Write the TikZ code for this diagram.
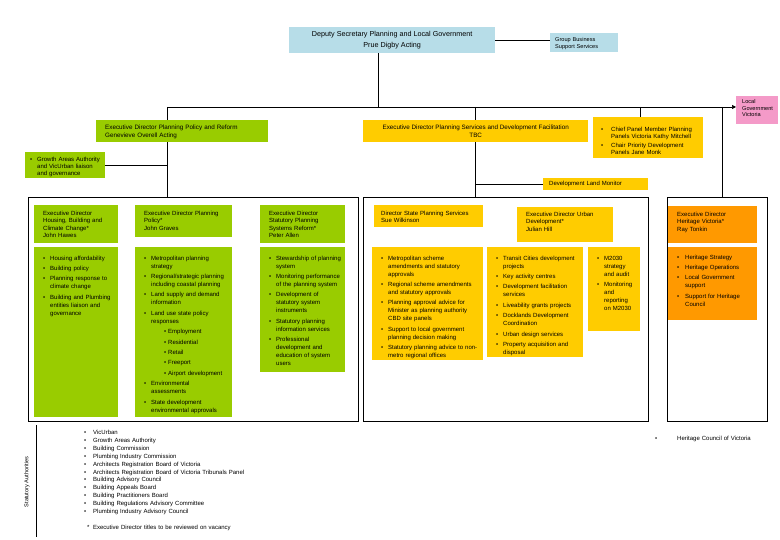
\documentclass[tikz,border=0pt]{standalone}
\usepackage{fontspec}
\setmainfont{Liberation Sans}
\usetikzlibrary{arrows.meta}

\definecolor{paleblue}{RGB}{183,221,232}
\definecolor{leaf}{RGB}{153,204,0}
\definecolor{gold}{RGB}{255,204,0}
\definecolor{amber}{RGB}{255,153,0}
\definecolor{rose}{RGB}{244,154,200}

\newlength{\bw}
\setlength{\bw}{7pt}
\newcommand{\fs}{\fontsize{6}{8}\selectfont}
\newcommand{\fss}{\fontsize{5.6}{6.8}\selectfont}
\newcommand{\fm}{\fontsize{6.3}{7.6}\selectfont}
\newcommand{\itm}[1]{\par\hangindent=\bw\hangafter=1\noindent\makebox[\bw][l]{\textbullet}#1\par\vspace{2.4pt}}
\newcommand{\sitm}[1]{\par\noindent\hspace*{20pt}\makebox[4pt][l]{\textbullet}#1\par\vspace{2.4pt}}

\begin{document}
\begin{tikzpicture}[x=1pt, y=-1pt,
                    panel/.style 2 args={anchor=north west, inner sep=0pt, minimum width=#1, minimum height=#2},
                    txt/.style={anchor=north west, inner sep=0pt, align=left, font=\fs, text width=#1},
                    txt/.default=100pt,
                    hdr/.style={txt=#1, font=\fontsize{6}{7.4}\selectfont},
                    grpframe/.style={draw, line width=0.6pt},
                    link/.style={draw, line width=0.7pt}]
                \useasboundingbox (0,0) rectangle (780,540);
                % deputy secretary and offices beside it
                \node[panel={206}{26}, fill=paleblue] (dep) at (289,27) {};
                \node[font=\fontsize{7.2}{10.5}\selectfont, align=center, inner sep=0pt] (depT) at (dep.center)
                    {Deputy Secretary Planning and Local Government\\Prue Digby Acting};
                \node[panel={68}{19}, fill=paleblue] (grp) at (550,33) {};
                \node[txt=64pt, font=\fss] (grpT) at ([shift={(5,4)}]grp.north west) {Group Business\\Support Services};
                \node[panel={42}{28}, fill=rose] (lgv) at (736,96) {};
                \node[txt=40pt, font=\fss] (lgvT) at ([shift={(6,3)}]lgv.north west) {Local\\Government\\Victoria};

                % executive directors
                \node[panel={172}{22}, fill=leaf] (ppr) at (96,120) {};
                \node[txt=160pt, font=\fm] (pprT) at ([shift={(9,5)}]ppr.north west)
                    {Executive Director Planning Policy and Reform\\Genevieve Overell Acting};
                \node[panel={225}{22}, fill=gold] (psd) at (363,120) {};
                \node[font=\fm, align=center, inner sep=0pt] (psdT) at (psd.center)
                    {Executive Director Planning Services and Development Facilitation\\TBC};
                \node[panel={110}{41}, fill=gold] (cpm) at (593,117) {};
                \node[txt=100pt, font=\fontsize{6}{6.8}\selectfont] (cpmT) at ([shift={(8,8)}]cpm.north west) {\setlength{\bw}{10pt}%
                    \itm{Chief Panel Member Planning\newline Panels Victoria Kathy Mitchell}%
                    \itm{Chair Priority Development\newline Panels Jane Monk}};
                \node[panel={80}{26}, fill=leaf] (gaa) at (25,152) {};
                \node[txt=76pt, font=\fontsize{6}{7.2}\selectfont] (gaaT) at ([shift={(5,2)}]gaa.north west)
                    {\itm{Growth Areas Authority\newline and VicUrban liaison\newline and governance}};
                \node[panel={105}{12}, fill=gold] (dlm) at (543,178) {};
                \node[txt=100pt, anchor=west] (dlmT) at ([xshift=6pt]dlm.west) {Development Land Monitor};

                % group frames
                \node[panel={330}{224}, grpframe] (gfr) at (28,197) {};
                \node[panel={285}{224}, grpframe] (yfr) at (363,197) {};
                \node[panel={100}{224}, grpframe] (hfr) at (667,197) {};

                % reporting lines
                \coordinate (busL) at (167,107);
                \coordinate (tapC) at (640,107);
                \coordinate (tapH) at (722,107);
                \draw[link] ([xshift=-14pt]dep.south) -- ([xshift=-14pt]dep.south |- busL);
                \draw[link, -{Triangle[length=4pt, width=4pt]}] (busL) -- (busL -| lgv.west);
                \draw[link] (busL) -- (busL |- ppr.north);
                \draw[link] (busL |- ppr.south) -- (busL |- gfr.north);
                \draw[link] (psd.north |- busL) -- (psd.north);
                \draw[link] (psd.south) -- (psd.south |- yfr.north);
                \draw[link] (tapC) -- (tapC |- cpm.north);
                \draw[link] (tapH) -- (tapH |- hfr.north);
                \draw[link] (dep.east) -- (dep.east -| grp.west);
                \draw[link] (gaa.east) -- (gaa.east -| busL);
                \draw[link] (dlm.west -| psd.south) -- (dlm.west);

                % planning policy and reform
                \node[panel={84}{38}, fill=leaf] (hbcH) at (34,205) {};
                \node[hdr=76pt] (hbcHT) at ([shift={(9,6)}]hbcH.north west)
                    {Executive Director\\Housing, Building and\\Climate Change*\\John Hawes};
                \node[panel={84}{170}, fill=leaf] (hbcB) at (34,247) {};
                \node[txt=76pt] (hbcBT) at ([shift={(9,5)}]hbcB.north west)
                    {\itm{Housing affordability}\itm{Building policy}%
                     \itm{Planning response to\newline climate change}%
                     \itm{Building and Plumbing\newline entities liaison and\newline governance}};
                \node[panel={97}{32}, fill=leaf] (ppH) at (135,205) {};
                \node[hdr=88pt] (ppHT) at ([shift={(9,6)}]ppH.north west)
                    {Executive Director Planning\\Policy*\\John Graves};
                \node[panel={97}{170}, fill=leaf] (ppB) at (135,247) {};
                \node[txt=88pt] (ppBT) at ([shift={(9,5)}]ppB.north west)
                    {\itm{Metropolitan planning\newline strategy}%
                     \itm{Regional/strategic planning\newline including coastal planning}%
                     \itm{Land supply and demand\newline information}%
                     \itm{Land use state policy\newline responses}%
                     \sitm{Employment}\sitm{Residential}\sitm{Retail}\sitm{Freeport}\sitm{Airport development}%
                     \itm{Environmental\newline assessments}%
                     \itm{State development\newline environmental approvals}};
                \node[panel={85}{38}, fill=leaf] (spsH) at (260,205) {};
                \node[hdr=76pt] (spsHT) at ([shift={(9,6)}]spsH.north west)
                    {Executive Director\\Statutory Planning\\Systems Reform*\\Peter Allen};
                \node[panel={85}{125}, fill=leaf] (spsB) at (260,247) {};
                \node[txt=76pt] (spsBT) at ([shift={(9,5)}]spsB.north west)
                    {\itm{Stewardship of planning\newline system}%
                     \itm{Monitoring performance\newline of the planning system}%
                     \itm{Development of\newline statutory system\newline instruments}%
                     \itm{Statutory planning\newline information services}%
                     \itm{Professional\newline development and\newline education of system\newline users}};

                % planning services and development facilitation
                \node[panel={109}{22}, fill=gold] (spvH) at (374,205) {};
                \node[hdr=100pt] (spvHT) at ([shift={(7,6)}]spvH.north west)
                    {Director State Planning Services\\Sue Wilkinson};
                \node[panel={111}{113}, fill=gold] (spvB) at (372,247) {};
                \node[txt=100pt] (spvBT) at ([shift={(9,5)}]spvB.north west)
                    {\itm{Metropolitan scheme\newline amendments and statutory\newline approvals}%
                     \itm{Regional scheme amendments\newline and statutory approvals}%
                     \itm{Planning approval advice for\newline Minister as planning authority\newline CBD site panels}%
                     \itm{Support to local government\newline planning decision making}%
                     \itm{Statutory planning advice to non-\newline metro regional offices}};
                \node[panel={96}{35}, fill=gold] (udH) at (517,207) {};
                \node[hdr=88pt] (udHT) at ([shift={(9,5)}]udH.north west)
                    {Executive Director Urban\\Development*\\Julian Hill};
                \node[panel={96}{110}, fill=gold] (udB) at (487,247) {};
                \node[txt=88pt] (udBT) at ([shift={(9,5)}]udB.north west)
                    {\itm{Transit Cities development\newline projects}%
                     \itm{Key activity centres}%
                     \itm{Development facilitation\newline services}%
                     \itm{Liveability grants projects}%
                     \itm{Docklands Development\newline Coordination}%
                     \itm{Urban design services}%
                     \itm{Property acquisition and\newline disposal}};
                \node[panel={52}{84}, fill=gold] (mB) at (588,247) {};
                \node[txt=44pt] (mBT) at ([shift={(9,5)}]mB.north west)
                    {\itm{M2030\newline strategy\newline and audit}%
                     \itm{Monitoring\newline and\newline reporting\newline on M2030}};

                % heritage
                \node[panel={89}{37}, fill=amber] (hvH) at (668,206) {};
                \node[hdr=80pt] (hvHT) at ([shift={(9,6)}]hvH.north west)
                    {Executive Director\\Heritage Victoria*\\Ray Tonkin};
                \node[panel={89}{73}, fill=amber] (hvB) at (668,247) {};
                \node[txt=80pt] (hvBT) at ([shift={(9,4)}]hvB.north west) {\setlength{\bw}{8pt}%
                    \itm{Heritage Strategy}\itm{Heritage Operations}%
                    \itm{Local Government\newline support}\itm{Support for Heritage\newline Council}};

                % statutory authorities
                \node[rotate=90, font=\fss, inner sep=0pt] (stat) at (27,482) {Statutory Authorities};
                \draw[grpframe] (36,425) -- (36,537);
                \foreach \t [count=\k from 0] in {VicUrban, Growth Areas Authority, Building Commission,
                        Plumbing Industry Commission, Architects Registration Board of Victoria,
                        Architects Registration Board of Victoria Tribunals Panel, Building Advisory Council,
                        Building Appeals Board, Building Practitioners Board,
                        Building Regulations Advisory Committee, Plumbing Industry Advisory Council}{
                        \node[txt=200pt] (sa\k) at (84,430+7.9*\k) {\makebox[9pt][l]{\textbullet}\t};
                    }
                \node[txt=220pt] (note) at (87,525) {*\hspace{3.5pt}Executive Director titles to be reviewed on vacancy};
                \node[txt=120pt] (hcv) at (655,436) {\makebox[22pt][l]{\textbullet}Heritage Council of Victoria};
            \end{tikzpicture}
\end{document}
